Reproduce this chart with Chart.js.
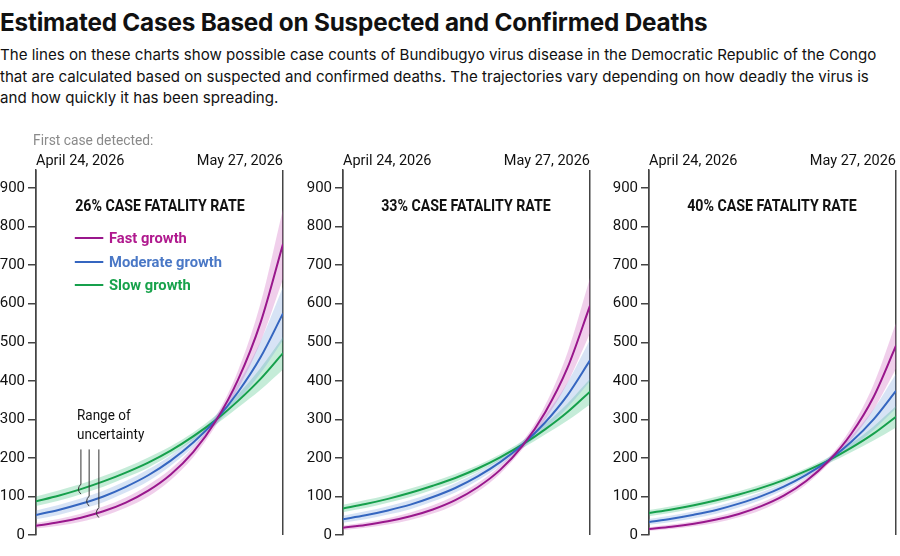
<!DOCTYPE html>
<html>
<head>
<meta charset="utf-8">
<script src="https://cdn.jsdelivr.net/npm/chart.js@4.4.1/dist/chart.umd.min.js"></script>
<style>
body { margin: 0; width: 900px; height: 556px; overflow: hidden; background: #fff; position: relative; color: #111; font-family: Inter, sans-serif; }
.title { position: absolute; left: 0; top: 7px; margin: 0; font: 700 24.3px Inter, sans-serif; letter-spacing: -0.2px; white-space: nowrap; }
.sub { position: absolute; left: 0; top: 44px; font: 400 15.1px/21.5px Inter, sans-serif; white-space: nowrap; }
.panel { position: absolute; top: 120px; width: 295px; height: 427px; }
.narrow { font-family: Roboto, sans-serif; white-space: nowrap; }
.first { position: absolute; left: 33px; top: 131px; font-size: 15px; color: #8a8a8a; transform: scaleX(0.92); transform-origin: left center; }
.ptitle { position: absolute; top: 196px; width: 220px; text-align: center; font-weight: 700; font-size: 16.5px; transform: scaleX(0.86); transform-origin: center; }
.leg { position: absolute; font-weight: 700; font-size: 15.5px; line-height: 18px; transform: scaleX(0.95); transform-origin: left center; }
.leg i { position: absolute; left: -36px; top: 8px; width: 30px; height: 2px; }
.range { position: absolute; left: 77px; top: 406px; font-size: 15px; line-height: 19px; transform: scaleX(0.9); transform-origin: left center; }
</style>
</head>
<body>
<div class="title">Estimated Cases Based on Suspected and Confirmed Deaths</div>
<div class="sub">The lines on these charts show possible case counts of Bundibugyo virus disease in the Democratic Republic of the Congo<br>that are calculated based on suspected and confirmed deaths. The trajectories vary depending on how deadly the virus is<br>and how quickly it has been spreading.</div>

<div class="panel" style="left:0px"><canvas id="c26"></canvas></div>
<div class="panel" style="left:307px"><canvas id="c33"></canvas></div>
<div class="panel" style="left:613px"><canvas id="c40"></canvas></div>

<div class="first narrow">First case detected:</div>
<div class="ptitle narrow" style="left:50px">26% CASE FATALITY RATE</div>
<div class="ptitle narrow" style="left:356px">33% CASE FATALITY RATE</div>
<div class="ptitle narrow" style="left:662px">40% CASE FATALITY RATE</div>
<div class="leg narrow" style="left:109px;top:229px;color:#b0198e"><i style="background:#99178c"></i>Fast growth</div>
<div class="leg narrow" style="left:109px;top:253px;color:#4a78c6"><i style="background:#3566c0"></i>Moderate growth</div>
<div class="leg narrow" style="left:109px;top:276px;color:#17a24b"><i style="background:#16a04c"></i>Slow growth</div>
<div class="range narrow">Range of<br>uncertainty</div>

<script>
// days since first case (April 24 -> May 27)
const days = [0, 3, 6, 9, 12, 15, 18, 21, 24, 27, 30, 33]
const xTicks = [0, 33]
const xLabels = ["April 24, 2026", "May 27, 2026"]
const yTicks = [0, 100, 200, 300, 400, 500, 600, 700, 800, 900]

// 26% CFR
const fast26 = [24, 32.8, 44.9, 61.5, 84.1, 115, 157, 215, 295, 403, 551, 755]
const fast26Low = [16.8, 23.9, 34.6, 49.2, 70.6, 100, 143, 202, 283, 379, 501, 664]
const fast26High = [31.2, 41.7, 55.2, 73.8, 97.6, 130, 171, 228, 307, 427, 601, 846]
const moderate26 = [52, 65, 81, 100, 125, 155, 193, 240, 298, 371, 461, 575]
const moderate26Low = [40.6, 52, 67.2, 85, 110, 139.5, 179.5, 228, 286, 349, 419.5, 506]
const moderate26High = [63.4, 78, 94.8, 115, 140, 170.5, 206.5, 252, 310, 393, 502.5, 644]
const slow26 = [87.5, 102, 119, 139, 162, 188, 219, 256, 298, 348, 405, 472]
const slow26Low = [75.3, 88.7, 105.9, 125.1, 149, 174.8, 208, 245.8, 286, 330.6, 376.7, 429.5]
const slow26High = [99.8, 115.3, 132.1, 152.9, 175, 201.2, 230, 266, 310, 365.4, 433.4, 514.5]

// 33% CFR
const fast33 = [19, 26, 35.4, 48.5, 66.3, 90.6, 124, 169, 232, 318, 434, 595]
const fast33Low = [13.2, 18.8, 27.3, 38.8, 55.6, 78.8, 112.6, 159.2, 223, 298.7, 394.8, 523.2]
const fast33High = [24.6, 32.9, 43.5, 58.2, 76.9, 102.4, 134.7, 179.7, 241.9, 336.5, 473.6, 666.6]
const moderate33 = [41, 51.2, 63.8, 78.8, 98.5, 122, 152, 189, 235, 292, 363, 453]
const moderate33Low = [32, 41, 53, 67, 86.7, 110, 141.4, 179.7, 225.4, 275, 330.6, 398.7]
const moderate33High = [50, 61.5, 74.7, 90.6, 110.3, 134.4, 162.7, 198.6, 244.3, 309.7, 396, 507.5]
const slow33 = [69, 80.4, 93.8, 109.5, 127.7, 148, 172.6, 201.7, 235, 274, 319, 372]
const slow33Low = [59.3, 69.9, 83.4, 98.6, 117.4, 137.7, 163.9, 193.7, 225.4, 260.5, 296.8, 338.4]
const slow33High = [78.6, 90.9, 104.1, 120.5, 137.9, 158.5, 181.2, 209.6, 244.3, 287.9, 341.5, 405.4]

// 40% CFR
const fast40 = [15.6, 21.3, 29.2, 40, 54.7, 74.8, 102, 140, 192, 262, 358, 491]
const fast40Low = [10.9, 15.5, 22.5, 32, 45.9, 65, 92.9, 131.3, 184, 246.4, 325.7, 431.6]
const fast40High = [20.3, 27.1, 35.9, 48, 63.4, 84.5, 111.2, 148.2, 199.6, 277.6, 390.7, 549.9]
const moderate40 = [33.8, 42.3, 52.7, 65, 81.3, 100.8, 125.5, 156, 193.7, 241, 300, 374]
const moderate40Low = [26.4, 33.8, 43.7, 55.3, 71.5, 90.7, 116.7, 148.2, 185.9, 226.9, 272.7, 328.9]
const moderate40High = [41.2, 50.7, 61.6, 74.8, 91, 110.8, 134.2, 163.8, 201.5, 255.5, 326.6, 418.6]
const slow40 = [57, 66.3, 77.4, 90.4, 105.3, 122.2, 142.4, 166.4, 193.7, 226, 263, 307]
const slow40Low = [48.9, 57.7, 68.8, 81.3, 96.9, 113.6, 135.2, 159.8, 185.9, 214.9, 244.9, 279.2]
const slow40High = [64.9, 74.9, 85.9, 99.4, 113.8, 130.8, 149.5, 172.9, 201.5, 237.5, 281.7, 334.4]

const COLORS = {
    fast: { line: "#99178c", band: "rgba(206,95,190,0.30)" },
    moderate: { line: "#3566c0", band: "rgba(110,155,220,0.28)" },
    slow: { line: "#16a04c", band: "rgba(45,185,115,0.28)" }
}

const xy = arr => arr.map((v, i) => ({ x: days[i], y: v }))

function interp(series, d) {
    for (let i = 1; i < days.length; i++) {
        if (d <= days[i]) {
            const t = (d - days[i - 1]) / (days[i] - days[i - 1])
            return series[i - 1] + t * (series[i] - series[i - 1])
        }
    }
    return series[series.length - 1]
}

// "Range of uncertainty" pointers, panel 1 only
const leaderDays = [6, 7.1, 8.4]
const leaderTop = 222
function leaderPlugin(seriesList) {
    return {
        id: "leaders",
        afterDatasetsDraw(chart) {
            const ctx = chart.ctx
            const xs = chart.scales.x, ys = chart.scales.y
            ctx.save()
            ctx.strokeStyle = "#333"
            ctx.lineWidth = 1
            seriesList.forEach((s, i) => {
                const px = xs.getPixelForValue(leaderDays[i])
                const py = ys.getPixelForValue(interp(s, leaderDays[i]))
                const top = ys.getPixelForValue(leaderTop)
                ctx.beginPath()
                ctx.moveTo(px, top)
                ctx.lineTo(px, py - 5)
                ctx.quadraticCurveTo(px - 5, py, px, py + 5)
                ctx.stroke()
            })
            ctx.restore()
        }
    }
}

function line(data, c) {
    return { data: xy(data), borderColor: c.line, borderWidth: 2, pointRadius: 0, fill: false, cubicInterpolationMode: "monotone" }
}
function band(data, c, upper) {
    return {
        data: xy(data), borderWidth: 0, borderColor: "transparent", pointRadius: 0,
        backgroundColor: c.band, fill: upper ? "+1" : false, cubicInterpolationMode: "monotone"
    }
}

function makePanel(id, s, withLeaders) {
    const ctx = document.getElementById(id).getContext("2d")
    new Chart(ctx, {
        type: "line",
        data: {
            datasets: [
                line(s.fast, COLORS.fast),
                line(s.moderate, COLORS.moderate),
                line(s.slow, COLORS.slow),
                band(s.fastHigh, COLORS.fast, true), band(s.fastLow, COLORS.fast, false),
                band(s.moderateHigh, COLORS.moderate, true), band(s.moderateLow, COLORS.moderate, false),
                band(s.slowHigh, COLORS.slow, true), band(s.slowLow, COLORS.slow, false)
            ]
        },
        options: {
            responsive: true,
            maintainAspectRatio: false,
            animation: false,
            layout: { padding: { left: 0, right: 12, top: 0, bottom: 0 } },
            plugins: { legend: { display: false }, tooltip: { enabled: false } },
            scales: {
                x: {
                    type: "linear", position: "top", min: 0, max: 33,
                    afterBuildTicks: sc => { sc.ticks = xTicks.map(v => ({ value: v })) },
                    afterFit: sc => { sc.height = 50 },
                    grid: { display: true, drawTicks: false, color: "#444", lineWidth: 1.5 },
                    border: { display: false },
                    ticks: {
                        align: "inner", padding: 0, maxRotation: 0, autoSkip: false, color: "#111",
                        font: { family: "Roboto", size: 14.5 },
                        callback: (v, i) => xLabels[i]
                    }
                },
                y: {
                    min: 0, max: 947,
                    afterBuildTicks: sc => { sc.ticks = yTicks.map(v => ({ value: v })) },
                    afterFit: sc => { sc.width = 36 },
                    grid: { drawOnChartArea: false, drawTicks: true, tickLength: 8, color: "#444", lineWidth: 1.5 },
                    border: { display: true, color: "#444", width: 1.5 },
                    ticks: { padding: 3, color: "#111", font: { family: "Roboto", size: 15 } }
                }
            }
        },
        plugins: withLeaders ? [leaderPlugin([s.slow, s.moderate, s.fast])] : []
    })
}

makePanel("c26", {
    fast: fast26, fastLow: fast26Low, fastHigh: fast26High,
    moderate: moderate26, moderateLow: moderate26Low, moderateHigh: moderate26High,
    slow: slow26, slowLow: slow26Low, slowHigh: slow26High
}, true)
makePanel("c33", {
    fast: fast33, fastLow: fast33Low, fastHigh: fast33High,
    moderate: moderate33, moderateLow: moderate33Low, moderateHigh: moderate33High,
    slow: slow33, slowLow: slow33Low, slowHigh: slow33High
}, false)
makePanel("c40", {
    fast: fast40, fastLow: fast40Low, fastHigh: fast40High,
    moderate: moderate40, moderateLow: moderate40Low, moderateHigh: moderate40High,
    slow: slow40, slowLow: slow40Low, slowHigh: slow40High
}, false)
</script>
</body>
</html>
